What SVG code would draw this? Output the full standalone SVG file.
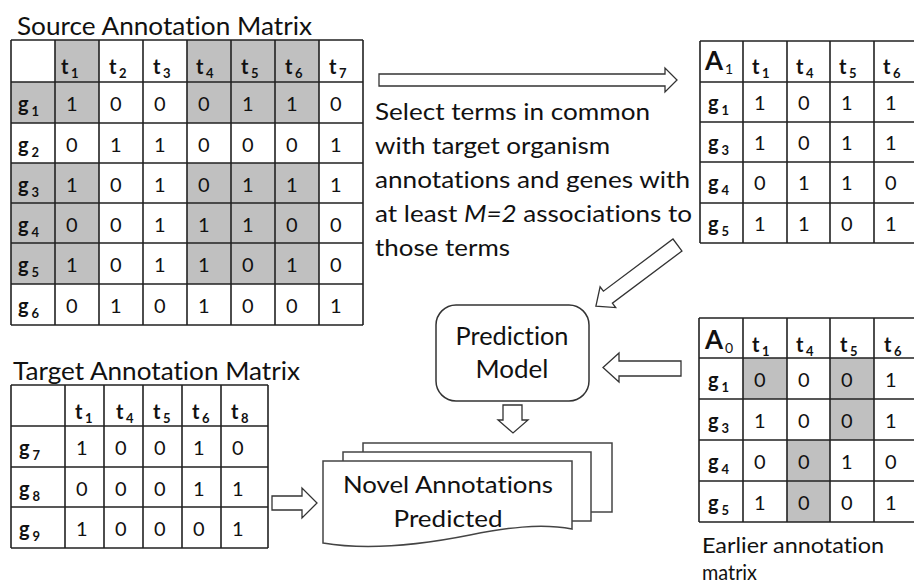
<svg xmlns="http://www.w3.org/2000/svg" width="914" height="585" viewBox="0 0 914 585">
<style>
text{font-family:Lato,"Liberation Sans",sans-serif;fill:#111;font-variant-ligatures:none;font-feature-settings:"liga" 0,"clig" 0}
.lbl{font-size:23.5px}
.ttl{font-size:25px}
.d{font-size:20px}
.h{font-size:20px;font-weight:bold}
.s{font-size:13px;font-weight:bold}
.A{font-size:26px;font-weight:bold}
.As{font-size:14px;font-weight:normal}
.mid{text-anchor:middle}
.grid{fill:none;stroke:#222;stroke-width:1.6}
.sh{fill:#c0c0c0}
.arr{fill:#fff;stroke:#333;stroke-width:1.3;stroke-linejoin:miter}
.doc{fill:#fff;stroke:#444;stroke-width:1.5}
</style>
<rect width="914" height="585" fill="#fff"/>

<g id="source-matrix">
<text class="ttl" x="17" y="35" textLength="295" lengthAdjust="spacingAndGlyphs">Source Annotation Matrix</text>
<rect class="sh" x="55" y="40" width="44" height="42"/>
<rect class="sh" x="187" y="40" width="132" height="42"/>
<rect class="sh" x="11" y="82" width="88" height="41"/>
<rect class="sh" x="187" y="82" width="132" height="41"/>
<rect class="sh" x="11" y="163" width="88" height="121"/>
<rect class="sh" x="187" y="163" width="132" height="121"/>
<path class="grid" d="M11,40H363M11,82H363M11,123H363M11,163H363M11,203H363M11,243H363M11,284H363M11,325H363M11,40V325M55,40V325M99,40V325M143,40V325M187,40V325M231,40V325M275,40V325M319,40V325M363,40V325"/>
<text class="h" x="61" y="74">t<tspan class="s" dx="2.5" dy="4">1</tspan></text>
<text class="h" x="109" y="74">t<tspan class="s" dx="2.5" dy="4">2</tspan></text>
<text class="h" x="153" y="74">t<tspan class="s" dx="2.5" dy="4">3</tspan></text>
<text class="h" x="196" y="74">t<tspan class="s" dx="2.5" dy="4">4</tspan></text>
<text class="h" x="241" y="74">t<tspan class="s" dx="2.5" dy="4">5</tspan></text>
<text class="h" x="285" y="74">t<tspan class="s" dx="2.5" dy="4">6</tspan></text>
<text class="h" x="329" y="74">t<tspan class="s" dx="2.5" dy="4">7</tspan></text>
<text class="h" x="18" y="111">g<tspan class="s" dx="3" dy="5">1</tspan></text>
<text class="h" x="18" y="152">g<tspan class="s" dx="3" dy="5">2</tspan></text>
<text class="h" x="18" y="192">g<tspan class="s" dx="3" dy="5">3</tspan></text>
<text class="h" x="18" y="232">g<tspan class="s" dx="3" dy="5">4</tspan></text>
<text class="h" x="18" y="272">g<tspan class="s" dx="3" dy="5">5</tspan></text>
<text class="h" x="18" y="313">g<tspan class="s" dx="3" dy="5">6</tspan></text>
<text class="d" x="66" y="111">1</text><text class="d" x="110" y="111">0</text><text class="d" x="154" y="111">0</text><text class="d" x="198" y="111">0</text><text class="d" x="242" y="111">1</text><text class="d" x="286" y="111">1</text><text class="d" x="330" y="111">0</text>
<text class="d" x="66" y="152">0</text><text class="d" x="110" y="152">1</text><text class="d" x="154" y="152">1</text><text class="d" x="198" y="152">0</text><text class="d" x="242" y="152">0</text><text class="d" x="286" y="152">0</text><text class="d" x="330" y="152">1</text>
<text class="d" x="66" y="192">1</text><text class="d" x="110" y="192">0</text><text class="d" x="154" y="192">1</text><text class="d" x="198" y="192">0</text><text class="d" x="242" y="192">1</text><text class="d" x="286" y="192">1</text><text class="d" x="330" y="192">1</text>
<text class="d" x="66" y="232">0</text><text class="d" x="110" y="232">0</text><text class="d" x="154" y="232">1</text><text class="d" x="198" y="232">1</text><text class="d" x="242" y="232">1</text><text class="d" x="286" y="232">0</text><text class="d" x="330" y="232">0</text>
<text class="d" x="66" y="272">1</text><text class="d" x="110" y="272">0</text><text class="d" x="154" y="272">1</text><text class="d" x="198" y="272">1</text><text class="d" x="242" y="272">0</text><text class="d" x="286" y="272">1</text><text class="d" x="330" y="272">0</text>
<text class="d" x="66" y="313">0</text><text class="d" x="110" y="313">1</text><text class="d" x="154" y="313">0</text><text class="d" x="198" y="313">1</text><text class="d" x="242" y="313">0</text><text class="d" x="286" y="313">0</text><text class="d" x="330" y="313">1</text>
</g>

<g id="select-text">
<text class="lbl" x="375" y="120" textLength="275" lengthAdjust="spacingAndGlyphs">Select terms in common</text>
<text class="lbl" x="375" y="154" textLength="235" lengthAdjust="spacingAndGlyphs">with target organism</text>
<text class="lbl" x="375" y="188" textLength="315" lengthAdjust="spacingAndGlyphs">annotations and genes with</text>
<text class="lbl" x="375" y="222" textLength="317" lengthAdjust="spacingAndGlyphs">at least <tspan font-style="italic">M=2</tspan> associations to</text>
<text class="lbl" x="375" y="256" textLength="135" lengthAdjust="spacingAndGlyphs">those terms</text>
</g>

<g id="a1-matrix">
<path class="grid" d="M700,41H914M700,82H914M700,122H914M700,162H914M700,203H914M700,243H914M700,41V243M743,41V243M787,41V243M830,41V243M874,41V243"/>
<text class="A" x="705" y="70">A<tspan class="As" dx="2" dy="4">1</tspan></text>
<text class="h" x="752" y="74">t<tspan class="s" dx="2.5" dy="4">1</tspan></text>
<text class="h" x="796" y="74">t<tspan class="s" dx="2.5" dy="4">4</tspan></text>
<text class="h" x="839" y="74">t<tspan class="s" dx="2.5" dy="4">5</tspan></text>
<text class="h" x="883" y="74">t<tspan class="s" dx="2.5" dy="4">6</tspan></text>
<text class="h" x="708" y="110">g<tspan class="s" dx="3" dy="5">1</tspan></text>
<text class="h" x="708" y="150">g<tspan class="s" dx="3" dy="5">3</tspan></text>
<text class="h" x="708" y="190">g<tspan class="s" dx="3" dy="5">4</tspan></text>
<text class="h" x="708" y="231">g<tspan class="s" dx="3" dy="5">5</tspan></text>
<text class="d" x="754" y="110">1</text><text class="d" x="798" y="110">0</text><text class="d" x="841" y="110">1</text><text class="d" x="885" y="110">1</text>
<text class="d" x="754" y="150">1</text><text class="d" x="798" y="150">0</text><text class="d" x="841" y="150">1</text><text class="d" x="885" y="150">1</text>
<text class="d" x="754" y="190">0</text><text class="d" x="798" y="190">1</text><text class="d" x="841" y="190">1</text><text class="d" x="885" y="190">0</text>
<text class="d" x="754" y="231">1</text><text class="d" x="798" y="231">1</text><text class="d" x="841" y="231">0</text><text class="d" x="885" y="231">1</text>
</g>

<g id="a0-matrix">
<rect class="sh" x="743" y="358" width="44" height="41"/>
<rect class="sh" x="830" y="358" width="44" height="82"/>
<rect class="sh" x="787" y="440" width="43" height="82"/>
<path class="grid" d="M699,318H914M699,358H914M699,399H914M699,440H914M699,481H914M699,522H914M699,318V522M743,318V522M787,318V522M830,318V522M874,318V522"/>
<text class="A" x="705" y="349">A<tspan class="As" dx="2" dy="4">0</tspan></text>
<text class="h" x="752" y="352">t<tspan class="s" dx="2.5" dy="4">1</tspan></text>
<text class="h" x="796" y="352">t<tspan class="s" dx="2.5" dy="4">4</tspan></text>
<text class="h" x="840" y="352">t<tspan class="s" dx="2.5" dy="4">5</tspan></text>
<text class="h" x="884" y="352">t<tspan class="s" dx="2.5" dy="4">6</tspan></text>
<text class="h" x="708" y="387">g<tspan class="s" dx="3" dy="5">1</tspan></text>
<text class="h" x="708" y="428">g<tspan class="s" dx="3" dy="5">3</tspan></text>
<text class="h" x="708" y="469">g<tspan class="s" dx="3" dy="5">4</tspan></text>
<text class="h" x="708" y="510">g<tspan class="s" dx="3" dy="5">5</tspan></text>
<text class="d" x="754" y="387">0</text><text class="d" x="798" y="387">0</text><text class="d" x="841" y="387">0</text><text class="d" x="885" y="387">1</text>
<text class="d" x="754" y="428">1</text><text class="d" x="798" y="428">0</text><text class="d" x="841" y="428">0</text><text class="d" x="885" y="428">1</text>
<text class="d" x="754" y="469">0</text><text class="d" x="798" y="469">0</text><text class="d" x="841" y="469">1</text><text class="d" x="885" y="469">0</text>
<text class="d" x="754" y="510">1</text><text class="d" x="798" y="510">0</text><text class="d" x="841" y="510">0</text><text class="d" x="885" y="510">1</text>
<text x="702" y="553" font-size="21" textLength="182" lengthAdjust="spacingAndGlyphs">Earlier annotation</text>
<text x="702" y="580" font-size="21" textLength="55" lengthAdjust="spacingAndGlyphs">matrix</text>
</g>

<g id="target-matrix">
<text class="ttl" x="13" y="380" textLength="287" lengthAdjust="spacingAndGlyphs">Target Annotation Matrix</text>
<path class="grid" d="M11,385H268M11,426H268M11,467H268M11,507H268M11,548H268M11,385V548M65,385V548M104,385V548M143,385V548M182,385V548M221,385V548M268,385V548"/>
<text class="h" x="75" y="419">t<tspan class="s" dx="2.5" dy="4">1</tspan></text>
<text class="h" x="116" y="419">t<tspan class="s" dx="2.5" dy="4">4</tspan></text>
<text class="h" x="153" y="419">t<tspan class="s" dx="2.5" dy="4">5</tspan></text>
<text class="h" x="192" y="419">t<tspan class="s" dx="2.5" dy="4">6</tspan></text>
<text class="h" x="231" y="419">t<tspan class="s" dx="2.5" dy="4">8</tspan></text>
<text class="h" x="19" y="455">g<tspan class="s" dx="3" dy="5">7</tspan></text>
<text class="h" x="19" y="496">g<tspan class="s" dx="3" dy="5">8</tspan></text>
<text class="h" x="19" y="536">g<tspan class="s" dx="3" dy="5">9</tspan></text>
<text class="d" x="76" y="455">1</text><text class="d" x="115" y="455">0</text><text class="d" x="154" y="455">0</text><text class="d" x="193" y="455">1</text><text class="d" x="232" y="455">0</text>
<text class="d" x="76" y="496">0</text><text class="d" x="115" y="496">0</text><text class="d" x="154" y="496">0</text><text class="d" x="193" y="496">1</text><text class="d" x="232" y="496">1</text>
<text class="d" x="76" y="536">1</text><text class="d" x="115" y="536">0</text><text class="d" x="154" y="536">0</text><text class="d" x="193" y="536">0</text><text class="d" x="232" y="536">1</text>
</g>

<g id="prediction-model">
<rect x="436" y="305" width="153" height="96" rx="20" fill="#fff" stroke="#333" stroke-width="1.5"/>
<text class="mid" x="512" y="345" font-size="25" textLength="113" lengthAdjust="spacingAndGlyphs">Prediction</text>
<text class="mid" x="512" y="378" font-size="25" textLength="73" lengthAdjust="spacingAndGlyphs">Model</text>
</g>

<g id="novel-annotations">
<rect class="doc" x="363" y="443" width="249" height="69"/>
<rect class="doc" x="343" y="452" width="248" height="69"/>
<path class="doc" d="M323,461H572V529C540,523 505,528 470,535C425,544 370,551 323,543Z"/>
<text class="mid" x="448" y="493" font-size="23.5" textLength="210" lengthAdjust="spacingAndGlyphs">Novel Annotations</text>
<text class="mid" x="448" y="527" font-size="23.5" textLength="109" lengthAdjust="spacingAndGlyphs">Predicted</text>
</g>

<g id="connectors">
<polygon class="arr" points="379,74 665,74 665,68 677,80 665,92 665,86 379,86"/>
<polygon class="arr" transform="translate(677.5,245) rotate(143.13)" points="0,-7.5 87,-7.5 87,-13 102,0 87,13 87,7.5 0,7.5"/>
<polygon class="arr" points="681,361 619,361 619,353 603,367.5 619,382 619,376 681,376"/>
<polygon class="arr" points="503,405 522,405 522,420 528,420 513,433 498,420 503,420"/>
<polygon class="arr" points="272,496 302,496 302,488 317,503 302,518 302,510 272,510"/>
</g>
</svg>
